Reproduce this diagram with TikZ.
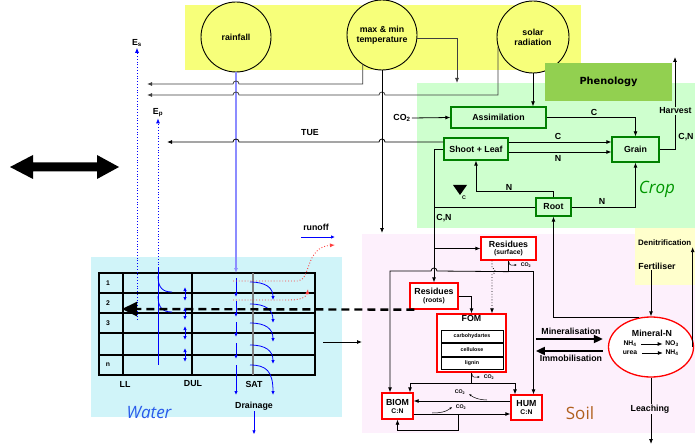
\documentclass[tikz,border=0pt]{standalone}
\usepackage{fontspec}
\setmainfont{Liberation Sans}
\newfontfamily\phenfont{DejaVu Sans}
\newfontfamily\comicfont{Open Sans}
\usetikzlibrary{arrows.meta, positioning, shapes.geometric}
\definecolor{my_yellow}{RGB}{247, 255, 122}
\definecolor{my_green}{RGB}{146, 208, 80}
\definecolor{crop_bg}{RGB}{206, 255, 206}
\definecolor{crop_green}{RGB}{0, 128, 0}
\definecolor{crop_text}{RGB}{0, 150, 0}
\definecolor{soil_bg}{RGB}{253, 240, 252}
\definecolor{soil_brown}{RGB}{176, 96, 30}
\definecolor{water_bg}{RGB}{208, 244, 249}
\definecolor{water_text}{RGB}{40, 90, 235}
\definecolor{denit_bg}{RGB}{255, 255, 204}
\definecolor{rain_blue}{RGB}{140, 140, 255}
\definecolor{line_grey}{RGB}{64, 64, 64}
\newcommand{\lab}{\fontsize{8.8}{10}\selectfont\bfseries}
\newcommand{\smlab}{\fontsize{6.8}{7.5}\selectfont\bfseries}
\newcommand{\tinylab}{\fontsize{5.3}{6}\selectfont\bfseries}
\tikzset {
  weather/.style = {draw, line width=0.9pt, circle, fill=my_yellow, minimum size=70pt, inner sep=0pt, align=center, font=\lab},
  phen/.style = {fill=my_green, minimum width=127pt, minimum height=38pt, font=\fontsize{9.8}{11}\selectfont\phenfont\bfseries},
  cropbox/.style = {draw=crop_green, line width=1.3pt, fill=crop_bg, inner sep=0pt, font=\lab},
  soilbox/.style = {draw=red, line width=1.3pt, fill=white, inner sep=0pt, align=center, font=\lab},
  fompart/.style = {draw, line width=0.8pt, fill=white, minimum width=62pt, minimum height=12.7pt, inner sep=0pt, font=\tinylab},
  mineral/.style = {draw=red, line width=1.3pt, ellipse, fill=white, minimum width=85pt, minimum height=60pt},
  lbl/.style = {font=\lab, inner sep=1pt},
  smalltext/.style = {font=\smlab, inner sep=0.5pt},
  tinytext/.style = {font=\tinylab, inner sep=0.5pt},
  bigname/.style = {font=\fontsize{17}{19}\selectfont\comicfont, inner sep=0pt},
  line/.style = {-{Latex[length=5pt,width=4pt]}, line width=0.8pt, color=black},
  greyline/.style = {line, color=line_grey},
  plainline/.style = {line width=0.8pt, color=black},
  rainline/.style = {-{Latex[length=5pt,width=4pt]}, line width=1.2pt, color=rain_blue},
  waterarrow/.style = {-{Latex[length=4pt,width=3.5pt]}, line width=0.8pt, color=blue},
  waterboth/.style = {{Latex[length=4pt,width=3.5pt]}-{Latex[length=4pt,width=3.5pt]}, line width=0.8pt, color=blue},
  evapline/.style = {-{Latex[length=5pt,width=4pt]}, line width=0.8pt, color=blue, dotted},
  runoffline/.style = {-{Latex[length=5pt,width=4pt]}, line width=0.9pt, color=red!75, dotted},
  co2/.style = {-{Latex[length=2.5pt,width=2.2pt]}, line width=0.5pt},
  fat/.style = {-{Triangle[length=9pt,width=8pt]}, line width=1.8pt},
  rootdash/.style = {-{Triangle[length=15pt,width=14pt]}, line width=2.4pt, dash pattern=on 8pt off 5pt},
  gridline/.style = {line width=1.1pt},
}

\begin{document}
\begin{tikzpicture}[x=1pt, y=-1pt]
    \useasboundingbox (0,0) rectangle (695,446);
    \fill[white] (0,0) rectangle (695,446);

    % areas
    \fill[my_yellow] (185,5) rectangle (581,70);
    \fill[crop_bg] (417,83) rectangle (695,228);
    \fill[soil_bg] (362,234) rectangle (695,433);
    \fill[denit_bg] (635,228) rectangle (695,285);
    \fill[water_bg] (91,257) rectangle (342,417);

    % exchange arrow
    \fill (10,167) -- (33,155) -- (33,162.5) -- (97,162.5) -- (97,155) -- (119,167)
      -- (97,179) -- (97,171.5) -- (33,171.5) -- (33,179) -- cycle;

    % weather
    \node[weather] (rain) at (236,37) {rainfall};
    \node[weather] (temp) at (382,35) {max \& min\\temperature};
    \node[weather, minimum size=72pt] (solar) at (533,37) {solar\\radiation};

    % crop
    \node[phen] (phen) at (608.5,82) {Phenology};
    \node[cropbox, minimum width=95pt, minimum height=21pt] (assim) at (498.5,117.5) {Assimilation};
    \node[cropbox, minimum width=64pt, minimum height=22pt] (shoot) at (476,149) {Shoot + Leaf};
    \node[cropbox, minimum width=47pt, minimum height=25pt] (grain) at (635.5,149.5) {Grain};
    \node[cropbox, minimum width=35pt, minimum height=18pt] (root) at (553.5,207) {Root};
    \node[lbl] (co2in) at (402,118) {CO\textsubscript{2}};
    \node[bigname, text=crop_text] (crop) at (657,189) {\itshape Crop};
    \coordinate (harvest) at (675,57);

    % soil
    \node[soilbox, minimum width=55pt, minimum height=23pt] (ressurf) at (508.5,248.5) {Residues\\[-2.5pt]{\smlab (surface)}};
    \node[soilbox, minimum width=48pt, minimum height=26pt] (resroot) at (434,296) {Residues\\[-2pt]{\smlab (roots)}};
    \node[soilbox, minimum width=69pt, minimum height=58pt] (fom) at (471.5,343) {};
    \node[lbl, below=1pt of fom.north] (fomtitle) {FOM};
    \node[fompart] (carb) at (472,336.5) {carbohydartes};
    \node[fompart, below=0pt of carb] (cell) {cellulose};
    \node[fompart, below=0pt of cell] (lig) {lignin};
    \node[soilbox, minimum width=31pt, minimum height=26pt] (biom) at (397.5,406) {BIOM\\[-2pt]{\smlab C:N}};
    \node[soilbox, minimum width=31pt, minimum height=25pt] (hum) at (526.5,407.5) {HUM\\[-2pt]{\smlab C:N}};
    \node[mineral] (minN) at (651,347) {};
    \node[lbl] (mintitle) at (652,333) {Mineral-N};
    \node[smalltext] (nhfour) at (630,344) {NH\textsubscript{4}};
    \node[smalltext] (nothree) at (672,344) {NO\textsubscript{3}};
    \node[smalltext] (urea) at (630,353) {urea};
    \node[smalltext] (nhfourb) at (672,353) {NH\textsubscript{4}};
    \node[bigname, text=soil_brown] (soil) at (580,413) {Soil};

    % water
    \node[bigname, text=water_text] (water) at (149,413) {\itshape Water};
    \draw[gridline] (99,273) rectangle (315,375);
    \foreach \y in {293,313,333,355}
      \draw[gridline] (99,\y) -- (315,\y);
    \foreach \x in {123,192}
      \draw[gridline] (\x,273) -- (\x,375);
    \draw[gridline, gray] (253,273) -- (253,375);
    \foreach \n/\y in {1/283, 2/303, 3/323, n/365}
      \node[smalltext] (row\n) at (108,\y) {\n};
    \node[lbl] (ll) at (125,384) {LL};
    \node[lbl] (dul) at (193,384) {DUL};
    \node[lbl] (sat) at (254,384) {SAT};
    \node[lbl] (drain) at (254,406) {Drainage};
    \node[lbl] (runoff) at (316,227) {runoff};
    \coordinate (gridtop) at (236,273);
    \coordinate (gridin) at (122,309);
    \coordinate (wout) at (323,342);
    \coordinate (soilin) at (362,342);

    % evaporation
    \node[lbl] (es) at (137,43) {E\textsubscript{s}};
    \node[lbl] (ep) at (158,113) {E\textsubscript{p}};
    \draw[evapline] (137,320) -- (es.south);
    \draw[evapline] (158,268) -- (ep.south);
    \draw[blue, line width=0.8pt] (158,268) -- (158,365);
    \draw[blue, line width=0.8pt] (158,276) .. controls (158,288) and (163,292) .. (172,292);
    \draw[blue, line width=0.8pt] (158,296) .. controls (158,308) and (163,312) .. (172,312);

    % weather lines
    \draw[rainline] (rain.south) -- (gridtop);
    \draw[greyline] (temp.237) |- (239,84) arc[start angle=0, end angle=-180, radius=3] -- (147,84);
    \draw[greyline] (solar.196) |- (385,95) arc[start angle=0, end angle=-180, radius=3]
      -- (239,95) arc[start angle=0, end angle=-180, radius=3] -- (147,95);
    \draw[greyline] (temp.-5) -| (457,83);
    \draw[line] (temp.south) -- (382,233);
    \draw[line] (solar.south) -- (solar.south |- assim.north);
    \draw[line] ([yshift=7pt]shoot.west) -- (385,142) arc[start angle=0, end angle=-180, radius=3]
      -- (239,142) arc[start angle=0, end angle=-180, radius=3] -- (167,142);
    \node[lbl] (tue) at (310,133) {TUE};

    % water movement
    \foreach \a/\b in {278/297, 301/317, 322/337, 343/359, 365/395}
      \draw[waterarrow] (236,\a) -- (236,\b);
    \foreach \a/\b in {287/301, 307/320, 326/340, 348/362}
      \draw[waterboth] (185,\a) -- (185,\b);
    \foreach \a/\b in {282/300, 304/323, 323/342, 345/364, 365/395}
      \draw[waterarrow] (250,\a) .. controls (266,\a) and (273,\a+6) .. (273,\b);
    \draw[waterarrow] (drain.south) -- ++(0,23);
    \draw[waterarrow] (301,237) -- (335,237);
    \draw[runoffline] (233,281) -- (298,281) .. controls (311,280) and (305,247) .. (335,245);
    \draw[runoffline] (233,300) -- (290,300) .. controls (302,300) and (307,296) .. (308,289);
    \draw[line] (wout) -- (soilin);
    \draw[rootdash] ([xshift=5pt]resroot.south west) -- (gridin);

    % crop lines
    \draw[line] (co2in.east) -- (assim.west);
    \draw[line] (assim.east) -| (grain.north);
    \coordinate (sc) at ([yshift=7pt]shoot.east);
    \coordinate (sn) at ([yshift=-3pt]shoot.east);
    \draw[line] (sc) -- (sc -| grain.west);
    \draw[line] (sn) -- (sn -| grain.west);
    \draw[line] (grain.east) -| (harvest);
    \draw[line] (root.north) -- ++(0,-6) -| (shoot.south);
    \draw[line] (root.east) -| (grain.south);
    \draw[line] (shoot.west) -| (resroot.north);
    \draw[plainline] (root.west) -- (root.west -| resroot.north);
    \draw[line] (resroot.north |- ressurf.west) -- (ressurf.west);
    \fill (453,185) -- (467,185) -- (460,195) -- cycle;
    \node[tinytext] (ctri) at (464,198) {C};
    \node[lbl] (cassim) at (594,112) {C};
    \node[lbl] (cshoot) at (558,136) {C};
    \node[lbl] (nshoot) at (558,158) {N};
    \node[lbl] (nroot) at (509,187) {N};
    \node[lbl] (nrootb) at (602,201) {N};
    \node[lbl, fill=crop_bg] (harvlab) at (675.5,111) {Harvest};
    \node[lbl] (cngrain) at (686,137) {C,N};
    \node[lbl] (cnres) at (444,218) {C,N};

    % soil lines
    \coordinate (sj) at ([yshift=-11pt]ressurf.south);
    \draw[plainline] (ressurf.south) -- (sj);
    \draw[line] (sj) -| ([xshift=7pt]hum.north);
    \draw[line] (sj) -- (437,271) arc[start angle=0, end angle=-180, radius=3] -| ([xshift=-7.5pt]biom.north);
    \draw[line, dotted] ([xshift=-16.5pt]ressurf.south) -- (492,268) arc[start angle=-90, end angle=90, radius=3]
      -- ([xshift=20.5pt]fom.north);
    \draw[line] (resroot.east) -| (fom.north);
    \coordinate (fj) at ([yshift=-11pt]fom.south);
    \draw[plainline] (fom.south) -- (fj);
    \draw[line] (fj) -| ([xshift=12.5pt]biom.north);
    \draw[line] (fj) -| ([xshift=-11.5pt]hum.north);
    \coordinate (hb) at ([yshift=6.5pt]hum.west);
    \draw[line] (hb) -- (hb -| biom.east);
    \coordinate (bh) at ([yshift=-8pt]biom.east);
    \draw[line] (bh) -- (bh -| hum.west);
    \draw[line] (bh) ++(45,0) -- ++(0,16) -| (biom.south);
    \draw[co2] (509,262) .. controls (509,266) and (512,265) .. (517,265);
    \node[tinytext] (co2a) at (526,265) {CO\textsubscript{2}};
    \draw[co2] (472,374) .. controls (472,378) and (475,377) .. (480,377);
    \node[tinytext] (co2b) at (489,377) {CO\textsubscript{2}};
    \draw[co2] (487,400) .. controls (480,400) and (474,398) .. (469,394);
    \node[tinytext] (co2c) at (460,392) {CO\textsubscript{2}};
    \draw[co2] (432,413) .. controls (440,413) and (446,412) .. (452,407);
    \node[tinytext] (co2d) at (461,407) {CO\textsubscript{2}};

    % mineral N
    \draw[line, shorten <=4pt, shorten >=2pt] (nhfour) -- (nothree);
    \draw[line, shorten <=4pt, shorten >=2pt] (urea) -- (nhfourb);
    \draw[fat] ([shift={(-72,-8)}]minN.west) -- ([shift={(-5,-8)}]minN.west);
    \draw[fat] ([shift={(-5,4)}]minN.west) -- ([shift={(-72,4)}]minN.west);
    \node[lbl] (minlab) at (571,331) {Mineralisation};
    \node[lbl] (immlab) at (571,358) {Immobilisation};
    \draw[line] (minN.112) -| (root.south);
    \node[lbl] (fert) at (657,266) {Fertiliser};
    \draw[line] (fert.south -| minN.north) -- (minN.north);
    \node[lbl, font=\fontsize{7.9}{9}\selectfont\bfseries, anchor=west] (denit) at (637,243) {Denitrification};
    \coordinate (me) at ([xshift=-1.5pt]minN.east);
    \draw[line] (me) -- (me |- denit.south);
    \coordinate (leach) at (651,444);
    \draw[line] (minN.south) -- (leach);
    \node[lbl, fill=soil_bg] (leachlab) at (650,409) {Leaching};

  \end{tikzpicture}
\end{document}
